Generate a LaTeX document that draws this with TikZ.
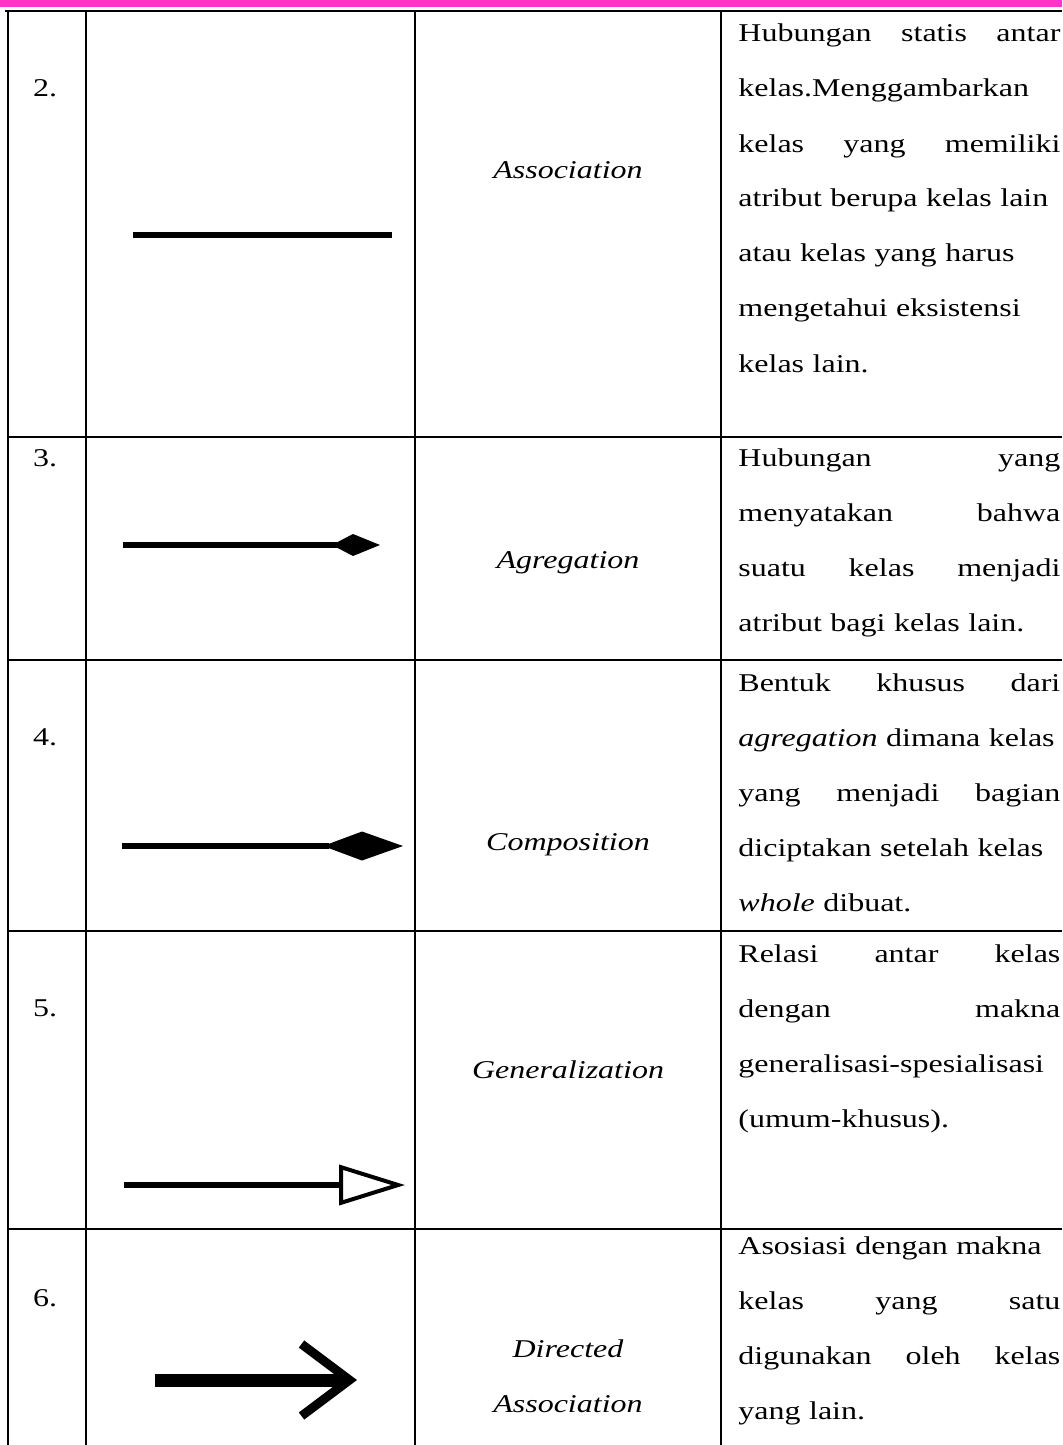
\documentclass[tikz,border=0pt]{standalone}
\usepackage{fontspec}
\setmainfont{Liberation Serif}[FakeStretch=1.25]
\usepackage{xcolor}
\usepackage{tikz}
\usetikzlibrary{arrows.meta}

\definecolor{pinkbar}{RGB}{255,51,204}

\tikzset{
  rule/.style={line width=1pt},
  desc/.style={anchor=base west, inner sep=0pt, text width=161pt, align=left,
    font=\fontsize{12.8}{27.5}\selectfont},
  numtxt/.style={anchor=base, inner sep=0pt, font=\fontsize{12.8}{27.5}\selectfont},
  symtxt/.style={anchor=base, inner sep=0pt, align=center,
    font=\fontsize{12.8}{27.5}\selectfont\itshape},
  shaft/.style={line width=2.6pt},
}

\begin{document}
\begin{tikzpicture}[x=0.5pt, y=-0.5pt]
                \useasboundingbox (0,0) rectangle (1062,1445);
                
                % Pink band and top rule
                \fill[pinkbar] (0,0) rectangle (1062,7);
                \draw[line width=1.3pt] (5,11) -- (1062,11);
                
                % Column rules
                \foreach \cx in {8,86,415,721}
                    \draw[rule] (\cx,11) -- (\cx,1445);
                
                % Row rules
                \foreach \ry in {437,660,931,1229}
                    \draw[rule] (8,\ry) -- (1062,\ry);
                
                % Row 2
                \node[numtxt] (num2) at (45,97) {2.};
                \node[symtxt] (lbl2) at (568,178) {Association};
                \node[desc] (desc2) at (738,42) {Hubungan\hfill statis\hfill antar\\
                    kelas.Menggambarkan\\
                    kelas\hfill yang\hfill memiliki\\
                    atribut berupa kelas lain\\
                    atau kelas yang harus\\
                    mengetahui eksistensi\\
                    kelas lain.};
                \coordinate (as1) at (133,235);
                \coordinate (as2) at (392,235);
                \draw[shaft] (as1) -- (as2);
                
                % Row 3
                \node[numtxt] (num3) at (45,466) {3.};
                \node[symtxt] (lbl3) at (568,568) {Agregation};
                \node[desc] (desc3) at (738,466) {Hubungan\hfill yang\\
                    menyatakan\hfill bahwa\\
                    suatu\hfill kelas\hfill menjadi\\
                    atribut bagi kelas lain.};
                \coordinate (ag1) at (123,545);
                \coordinate (ag2) at (380,545);
                \draw[shaft, -{Kite[length=24pt, width=11pt, inset=10.5pt, line width=0pt]}] (ag1) -- (ag2);
                
                % Row 4
                \node[numtxt] (num4) at (45,745) {4.};
                \node[symtxt] (lbl4) at (568,850) {Composition};
                \node[desc] (desc4) at (738,691) {Bentuk\hfill khusus\hfill dari\hspace*{10pt}\\
                    \textit{agregation} dimana kelas\\
                    yang\hfill menjadi\hfill bagian\\
                    diciptakan setelah kelas\\
                    \textit{whole} dibuat.};
                \coordinate (co1) at (122,846);
                \coordinate (co2) at (403,846);
                \draw[line width=3pt, -{Kite[length=40pt, width=14.5pt, inset=19.5pt, line width=0pt]}] (co1) -- (co2);
                
                % Row 5
                \node[numtxt] (num5) at (45,1016) {5.};
                \node[symtxt] (lbl5) at (568,1078) {Generalization};
                \node[desc] (desc5) at (738,962) {Relasi\hfill antar\hfill kelas\\
                    dengan\hfill makna\\
                    generalisasi-spesialisasi\\
                    (umum-khusus).};
                \coordinate (ge1) at (124,1185);
                \coordinate (ge2) at (405,1185);
                \draw[line width=3pt, -{Triangle[open, length=33pt, width=20pt, line width=2pt]}] (ge1) -- (ge2);
                
                % Row 6
                \node[numtxt] (num6) at (45,1306) {6.};
                \node[symtxt] (lbl6) at (568,1412) {Directed\\Association};
                \node[desc] (desc6) at (738,1254) {Asosiasi dengan makna\\
                    kelas\hfill yang\hfill satu\\
                    digunakan\hfill oleh\hfill kelas\\
                    yang lain.};
                \coordinate (da1) at (155,1380);
                \coordinate (da2) at (357,1380);
                \draw[line width=6.5pt, -{Straight Barb[length=24pt, width=36pt, line width=4.5pt]}] (da1) -- (da2);
            \end{tikzpicture}
\end{document}
